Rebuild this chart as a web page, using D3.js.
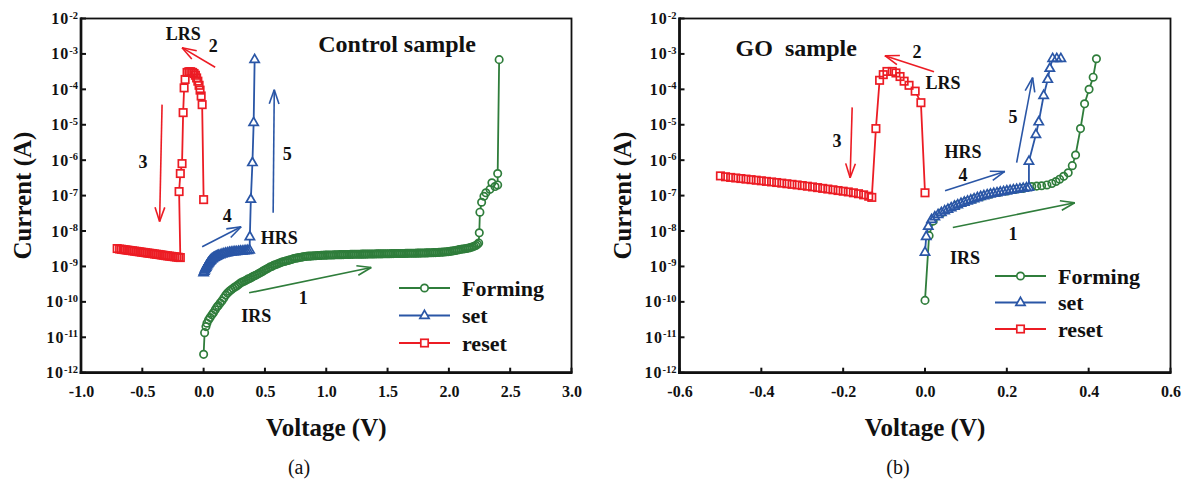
<!DOCTYPE html>
<html><head><meta charset="utf-8">
<script src="https://cdn.jsdelivr.net/npm/d3@7"></script>
<style>
body{margin:0;background:#fff}
svg{display:block}
text{font-family:"Liberation Serif","Times New Roman",serif;fill:#111}
</style></head><body>
<svg id="chart" width="1187" height="482"></svg>
<script>
// ---------------- DATA ----------------
const seriesNames = ["Forming", "set", "reset"];
const yTickExps = [-12, -11, -10, -9, -8, -7, -6, -5, -4, -3, -2];
const xTicksA = [-1.0, -0.5, 0.0, 0.5, 1.0, 1.5, 2.0, 2.5, 3.0];
const xTickLabelsA = ["-1.0", "-0.5", "0.0", "0.5", "1.0", "1.5", "2.0", "2.5", "3.0"];
const xTicksB = [-0.6, -0.4, -0.2, 0.0, 0.2, 0.4, 0.6];
const xTickLabelsB = ["-0.6", "-0.4", "-0.2", "0.0", "0.2", "0.4", "0.6"];

// Control sample: [voltage (V), current (A)]
const formingA = [[0,3.3e-12],[0.008,1.35e-11],[0.019,2.0e-11],[0.027,2.5e-11],[0.04,3.1e-11],[0.053,3.6e-11],[0.067,4.3e-11],[0.08,4.9e-11],[0.095,6.0e-11],[0.108,7.1e-11],[0.12,7.9e-11],[0.135,9.3e-11],[0.15,1.07e-10],[0.165,1.29e-10],[0.18,1.55e-10],
[0.195,1.78e-10],[0.21,2.0e-10],[0.225,2.19e-10],[0.24,2.4e-10],[0.255,2.63e-10],[0.27,2.82e-10],[0.285,3.1e-10],[0.3,3.39e-10],[0.315,3.63e-10],[0.33,3.8e-10],[0.345,4.07e-10],[0.36,4.37e-10],[0.375,4.57e-10],[0.39,4.9e-10],[0.405,5.25e-10],[0.42,5.5e-10],[0.435,5.89e-10],[0.45,6.3e-10],[0.465,6.76e-10],[0.48,7.24e-10],[0.495,7.76e-10],[0.51,8.3e-10],[0.525,8.9e-10],[0.54,9.55e-10],[0.555,1.0e-9],[0.57,1.07e-9],[0.585,1.12e-9],[0.6,1.17e-9],[0.615,1.23e-9],[0.63,1.29e-9],[0.645,1.35e-9],[0.66,1.38e-9],[0.675,1.45e-9],[0.69,1.48e-9],[0.705,1.55e-9],[0.72,1.58e-9],[0.735,1.66e-9],[0.75,1.7e-9],[0.765,1.74e-9],[0.78,1.78e-9],[0.795,1.82e-9],[0.81,1.86e-9],[0.825,1.9e-9],[0.84,1.92e-9],[0.855,1.95e-9],[0.87,1.96e-9],[0.885,1.98e-9],[0.9,2.0e-9],[0.915,2.01e-9],[0.93,2.03e-9],[0.945,2.04e-9],[0.96,2.05e-9],[0.975,2.07e-9],[0.99,2.08e-9],
[1.005,2.09e-9],[1.02,2.1e-9],[1.035,2.11e-9],[1.05,2.11e-9],[1.065,2.12e-9],[1.08,2.13e-9],[1.095,2.14e-9],[1.11,2.15e-9],[1.125,2.15e-9],[1.14,2.16e-9],[1.155,2.17e-9],[1.17,2.17e-9],[1.185,2.18e-9],[1.2,2.19e-9],[1.215,2.19e-9],[1.23,2.2e-9],[1.245,2.2e-9],[1.26,2.21e-9],[1.275,2.21e-9],[1.29,2.22e-9],[1.305,2.22e-9],[1.32,2.23e-9],[1.335,2.23e-9],[1.35,2.24e-9],[1.365,2.24e-9],[1.38,2.25e-9],[1.395,2.25e-9],[1.41,2.26e-9],[1.425,2.26e-9],[1.44,2.27e-9],[1.455,2.27e-9],[1.47,2.28e-9],[1.485,2.28e-9],[1.5,2.29e-9],[1.515,2.29e-9],[1.53,2.3e-9],[1.545,2.3e-9],[1.56,2.31e-9],[1.575,2.31e-9],[1.59,2.32e-9],[1.605,2.32e-9],[1.62,2.33e-9],[1.635,2.33e-9],[1.65,2.34e-9],[1.665,2.34e-9],[1.68,2.35e-9],[1.695,2.35e-9],[1.71,2.36e-9],[1.725,2.36e-9],[1.74,2.37e-9],[1.755,2.38e-9],[1.77,2.38e-9],[1.785,2.39e-9],[1.8,2.4e-9],[1.815,2.41e-9],[1.83,2.42e-9],[1.845,2.43e-9],[1.86,2.44e-9],[1.875,2.45e-9],[1.89,2.46e-9],[1.905,2.48e-9],[1.92,2.5e-9],[1.935,2.52e-9],[1.95,2.54e-9],[1.965,2.56e-9],[1.98,2.59e-9],[1.995,2.62e-9],
[2.01,2.66e-9],[2.025,2.71e-9],[2.04,2.76e-9],[2.055,2.82e-9],[2.07,2.9e-9],[2.085,2.98e-9],[2.1,3.05e-9],[2.115,3.1e-9],[2.13,3.15e-9],[2.145,3.2e-9],[2.16,3.3e-9],[2.175,3.4e-9],[2.19,3.55e-9],[2.205,3.7e-9],[2.22,3.9e-9],[2.233,4.2e-9],
[2.243,4.6e-9],[2.248,8.9e-9],[2.253,3.4e-8],[2.267,6.5e-8],[2.286,9.6e-8],[2.302,1.2e-7],[2.335,1.5e-7],[2.351,2.3e-7],[2.376,1.8e-7],[2.398,2.0e-7],[2.398,4.2e-7],[2.41,6.9e-4]];
const setA = [[0,6.6e-10],[0.005,7.3e-10],[0.01,8.0e-10],[0.015,8.8e-10],[0.02,9.5e-10],[0.025,1.03e-9],[0.03,1.1e-9],[0.035,1.18e-9],[0.04,1.25e-9],[0.045,1.32e-9],[0.05,1.39e-9],[0.055,1.46e-9],[0.06,1.52e-9],[0.067,1.6e-9],[0.074,1.67e-9],[0.081,1.74e-9],[0.088,1.8e-9],[0.096,1.87e-9],[0.104,1.93e-9],[0.112,1.99e-9],[0.12,2.04e-9],[0.135,2.13e-9],[0.15,2.22e-9],[0.165,2.3e-9],[0.18,2.37e-9],[0.195,2.43e-9],[0.21,2.48e-9],[0.225,2.53e-9],[0.24,2.57e-9],[0.255,2.6e-9],[0.27,2.63e-9],[0.285,2.66e-9],[0.3,2.69e-9],[0.315,2.72e-9],[0.33,2.75e-9],[0.345,2.78e-9],[0.36,2.82e-9],[0.375,2.9e-9],
[0.377,6.9e-9],[0.385,7.8e-8],[0.398,8.5e-7],[0.408,1.15e-5],[0.416,6.9e-4]];
const resetA = [[0,7.7e-8],[-0.012,3.7e-5],[-0.02,6.5e-5],[-0.029,9.5e-5],[-0.037,1.3e-4],[-0.047,1.7e-4],[-0.057,2.1e-4],[-0.067,2.5e-4],[-0.078,2.8e-4],[-0.09,3.0e-4],[-0.105,3.15e-4],[-0.12,3.15e-4],[-0.135,3.0e-4],[-0.151,1.9e-4],[-0.159,1.1e-4],[-0.167,2.2e-5],[-0.176,8e-7],[-0.19,4.2e-7],[-0.2,1.3e-7],
[-0.19,1.78e-9],[-0.205,1.81e-9],[-0.22,1.84e-9],[-0.235,1.87e-9],[-0.25,1.9e-9],[-0.265,1.93e-9],[-0.28,1.96e-9],[-0.295,1.99e-9],[-0.31,2.02e-9],[-0.325,2.06e-9],[-0.34,2.1e-9],[-0.355,2.14e-9],[-0.37,2.18e-9],[-0.385,2.21e-9],[-0.4,2.25e-9],[-0.415,2.29e-9],[-0.43,2.33e-9],[-0.445,2.37e-9],[-0.46,2.4e-9],[-0.475,2.45e-9],[-0.49,2.49e-9],[-0.505,2.53e-9],[-0.52,2.58e-9],[-0.535,2.62e-9],[-0.55,2.67e-9],[-0.565,2.71e-9],[-0.58,2.76e-9],[-0.595,2.81e-9],[-0.61,2.85e-9],[-0.625,2.9e-9],[-0.64,2.95e-9],[-0.655,3.0e-9],[-0.67,3.05e-9],[-0.685,3.1e-9],[-0.705,3.2e-9]];

// GO sample: [voltage (V), current (A)]
const formingB = [[0,1.1e-10],[0.01,7.4e-9],[0.02,1.9e-8],[0.04,3.2e-8],[0.06,4.3e-8],[0.08,5.5e-8],[0.1,6.8e-8],[0.12,8.1e-8],[0.14,9.6e-8],[0.16,1.1e-7],[0.18,1.22e-7],[0.2,1.35e-7],[0.22,1.48e-7],[0.24,1.6e-7],[0.25,1.7e-7],[0.261,1.8e-7],[0.273,1.85e-7],[0.285,1.9e-7],[0.298,2.0e-7],[0.31,2.2e-7],[0.32,2.5e-7],[0.329,2.9e-7],[0.339,3.5e-7],[0.35,4.4e-7],[0.36,7.0e-7],[0.368,1.4e-6],[0.38,7.8e-6],[0.39,3.9e-5],[0.401,1.0e-4],[0.411,2.2e-4],[0.419,7.3e-4]];
const setB = [[0,2.5e-9],[0.003,7e-9],[0.008,1.35e-8],[0.016,2.1e-8],[0.024,2.5e-8],[0.032,2.9e-8],[0.04,3.3e-8],[0.048,3.7e-8],[0.056,4.1e-8],[0.064,4.5e-8],[0.072,5.0e-8],[0.08,5.5e-8],[0.088,6.0e-8],[0.096,6.5e-8],[0.104,7.0e-8],[0.112,7.5e-8],[0.12,8.1e-8],[0.128,8.7e-8],[0.136,9.3e-8],[0.144,9.9e-8],[0.152,1.05e-7],[0.16,1.1e-7],[0.168,1.15e-7],[0.176,1.2e-7],[0.184,1.25e-7],[0.192,1.3e-7],[0.2,1.35e-7],[0.208,1.4e-7],[0.216,1.45e-7],[0.224,1.5e-7],[0.232,1.55e-7],[0.24,1.6e-7],[0.248,1.65e-7],[0.254,1.7e-7],[0.254,9.3e-7],[0.271,5.3e-6],[0.278,1.2e-5],[0.29,6.7e-5],[0.3,1.9e-4],[0.305,3.9e-4],[0.312,7.4e-4],[0.322,7.4e-4],[0.332,7.4e-4]];
const resetB = [[0,1.2e-7],[-0.01,4.2e-5],[-0.024,8.9e-5],[-0.039,1.3e-4],[-0.051,1.7e-4],[-0.061,2.3e-4],[-0.071,2.9e-4],[-0.08,3.2e-4],[-0.093,3.2e-4],[-0.102,2.6e-4],[-0.111,1.8e-4],[-0.12,7.8e-6],[-0.13,8.9e-8],[-0.1375,9.6e-8],[-0.15,1.05e-7],[-0.1625,1.13e-7],[-0.175,1.2e-7],[-0.1875,1.27e-7],[-0.2,1.33e-7],[-0.2125,1.39e-7],[-0.225,1.46e-7],[-0.2375,1.53e-7],[-0.25,1.6e-7],[-0.2625,1.68e-7],[-0.275,1.76e-7],[-0.2875,1.84e-7],[-0.3,1.92e-7],[-0.3125,2.0e-7],[-0.325,2.08e-7],[-0.3375,2.16e-7],[-0.35,2.25e-7],[-0.3625,2.34e-7],[-0.375,2.43e-7],[-0.3875,2.52e-7],[-0.4,2.62e-7],[-0.4125,2.72e-7],[-0.425,2.82e-7],[-0.4375,2.92e-7],[-0.45,3.03e-7],[-0.4625,3.14e-7],[-0.475,3.26e-7],[-0.4875,3.4e-7],[-0.5,3.6e-7]];

// Annotations in data coordinates
const arrowsA = [
  {c:"forming", from:[0.371,1.8e-10], to:[1.367,9.3e-10]},
  {c:"reset", from:[0.094,4.2e-4], to:[-0.176,1.5e-3]},
  {c:"reset", from:[-0.339,3.7e-5], to:[-0.359,1.86e-8]},
  {c:"set", from:[-0.012,3.6e-9], to:[0.306,1.32e-8]},
  {c:"set", from:[0.567,3.3e-8], to:[0.576,9.8e-5]}
];
const labelsA = [
  {t:"LRS", p:[-0.167,2.4e-3]}, {t:"2", p:[0.078,1.1e-3]}, {t:"3", p:[-0.494,6.2e-7]},
  {t:"4", p:[0.192,1.74e-8]}, {t:"HRS", p:[0.616,4.4e-9]}, {t:"5", p:[0.682,9.8e-7]},
  {t:"IRS", p:[0.429,2.75e-11]}, {t:"1", p:[0.812,8.9e-11]}
];
const arrowsB = [
  {c:"forming", from:[0.068,1.26e-8], to:[0.366,6.3e-8]},
  {c:"reset", from:[0.022,3.16e-4], to:[-0.098,8.9e-4]},
  {c:"reset", from:[-0.178,3.1e-5], to:[-0.183,3.2e-7]},
  {c:"set", from:[0.049,1.38e-7], to:[0.195,4.8e-7]},
  {c:"set", from:[0.224,8.5e-7], to:[0.263,2.14e-4]}
];
const labelsB = [
  {t:"2", p:[-0.0195,7.9e-4]}, {t:"LRS", p:[0.044,1.05e-4]}, {t:"3", p:[-0.215,2.3e-6]},
  {t:"HRS", p:[0.093,1.12e-6]}, {t:"4", p:[0.093,2.6e-7]}, {t:"5", p:[0.215,1.15e-5]},
  {t:"1", p:[0.215,5.4e-9]}, {t:"IRS", p:[0.098,1.2e-9]}
];

// ---------------- DRAWING ----------------
const colors = {forming:"#2f7d3b", set:"#2a56a6", reset:"#ec1c24"};
const svg = d3.select("#chart");

const panels = [
  {x0:81, x1:571.5, xDomain:[-1,3], xTicks:xTicksA, xLabels:xTickLabelsA,
   forming:formingA, set:setA, reset:resetA, arrows:arrowsA, labels:labelsA,
   title:"Control sample", titleAt:[0.935,1.1e-3], legend:[399, 288, 27.5], caption:"(a)", capX:299, yTitleX:31},
  {x0:679.5, x1:1170.5, xDomain:[-0.6,0.6], xTicks:xTicksB, xLabels:xTickLabelsB,
   forming:formingB, set:setB, reset:resetB, arrows:arrowsB, labels:labelsB,
   title:"GO  sample", titleAt:[-0.463,8.5e-4], legend:[995, 276, 26.5], caption:"(b)", capX:898, yTitleX:631}
];
const yTop = 18.5, yBot = 372.7;
const MSW = 1.7;

// marker shape; fill = "#fff" & stroke none for the fill pass, fill none & stroke for the outline pass
function marker(g, kind, x, y, fill, stroke) {
  let el;
  if (kind === "forming") {
    el = g.append("circle").attr("cx", x).attr("cy", y).attr("r", 3.7);
  } else if (kind === "set") {
    el = g.append("path").attr("d", `M${x},${y-5.2}L${x+4.6},${y+2.8}L${x-4.6},${y+2.8}Z`);
  } else {
    el = g.append("rect").attr("x", x-3.7).attr("y", y-3.7).attr("width", 7.4).attr("height", 7.4);
  }
  el.attr("fill", fill).attr("stroke", stroke).attr("stroke-width", MSW);
}

function arrow(g, x1, y1, x2, y2, color) {
  g.append("line").attr("x1", x1).attr("y1", y1).attr("x2", x2).attr("y2", y2)
    .attr("stroke", color).attr("stroke-width", 1.6);
  const a = Math.atan2(y2 - y1, x2 - x1), L = 15, w = 0.33;
  [a + Math.PI - w, a + Math.PI + w].forEach(b => {
    g.append("line").attr("x1", x2).attr("y1", y2)
      .attr("x2", x2 + L * Math.cos(b)).attr("y2", y2 + L * Math.sin(b))
      .attr("stroke", color).attr("stroke-width", 1.6);
  });
}

panels.forEach(P => {
  const x = d3.scaleLinear().domain(P.xDomain).range([P.x0, P.x1]);
  const y = d3.scaleLog().domain([1e-12, 1e-2]).range([yBot, yTop]);
  const g = svg.append("g");

  // frame
  g.append("rect").attr("x", P.x0).attr("y", yTop).attr("width", P.x1 - P.x0).attr("height", yBot - yTop)
    .attr("fill", "none").attr("stroke", "#111").attr("stroke-width", 1.8);

  // y axis
  const ya = d3.axisLeft(y).tickValues(yTickExps.map(e => Math.pow(10, e))).tickSize(0).tickFormat("");
  g.append("g").attr("transform", `translate(${P.x0},0)`).call(ya).call(s => s.select(".domain").remove());
  yTickExps.forEach(e => {
    const yy = y(Math.pow(10, e));
    g.append("line").attr("x1", P.x0).attr("x2", P.x0 + 5).attr("y1", yy).attr("y2", yy)
      .attr("stroke", "#111").attr("stroke-width", 2);
    const t = g.append("text").attr("x", P.x0 - 3).attr("y", yy + 5.5).attr("text-anchor", "end")
      .attr("font-weight", "bold").attr("font-size", 16);
    t.append("tspan").attr("letter-spacing", 1).text("10");
    t.append("tspan").attr("dy", -5.5).attr("font-size", 10.5).text(String(e));
  });

  // x axis
  const xa = d3.axisBottom(x).tickValues(P.xTicks).tickSize(0).tickFormat((d, i) => P.xLabels[i]);
  const xg = g.append("g").attr("transform", `translate(0,${yBot})`).call(xa);
  xg.select(".domain").remove();
  xg.selectAll("text").attr("dy", null).attr("y", 24.5).attr("font-size", 16).attr("font-weight", "bold")
    .attr("font-family", '"Liberation Serif","Times New Roman",serif').attr("fill", "#111");
  P.xTicks.forEach(v => {
    g.append("line").attr("x1", x(v)).attr("x2", x(v)).attr("y1", yBot).attr("y2", yBot - 5)
      .attr("stroke", "#111").attr("stroke-width", 2);
  });

  // thick left & bottom axis lines
  g.append("line").attr("x1", P.x0).attr("x2", P.x0).attr("y1", yTop - 0.9).attr("y2", yBot + 1.3)
    .attr("stroke", "#111").attr("stroke-width", 2.7);
  g.append("line").attr("x1", P.x0 - 1.3).attr("x2", P.x1 + 0.9).attr("y1", yBot).attr("y2", yBot)
    .attr("stroke", "#111").attr("stroke-width", 2.7);

  // axis titles
  g.append("text").attr("x", (P.x0 + P.x1) / 2).attr("y", 436).attr("text-anchor", "middle")
    .attr("font-weight", "bold").attr("font-size", 25).text("Voltage (V)");
  g.append("text").attr("transform", `translate(${P.yTitleX},${(yTop + yBot) / 2}) rotate(-90)`)
    .attr("text-anchor", "middle").attr("font-weight", "bold").attr("font-size", 25).text("Current (A)");
  g.append("text").attr("x", P.capX).attr("y", 474).attr("text-anchor", "middle")
    .attr("font-size", 20).text(P.caption);

  // series: line, then white marker fills, then marker outlines on top
  const line = d3.line().x(d => x(d[0])).y(d => y(d[1]));
  ["forming", "set", "reset"].forEach(k => {
    const data = P[k];
    g.append("path").attr("d", line(data)).attr("fill", "none")
      .attr("stroke", colors[k]).attr("stroke-width", 1.8);
    const fg = g.append("g");
    data.forEach(d => marker(fg, k, x(d[0]), y(d[1]), "#fff", "none"));
    const sg = g.append("g");
    data.forEach(d => marker(sg, k, x(d[0]), y(d[1]), "none", colors[k]));
  });

  // annotations
  P.arrows.forEach(a => arrow(g, x(a.from[0]), y(a.from[1]), x(a.to[0]), y(a.to[1]), colors[a.c]));
  P.labels.forEach(l => {
    g.append("text").attr("x", x(l.p[0])).attr("y", y(l.p[1])).attr("text-anchor", "middle")
      .attr("font-weight", "bold").attr("font-size", 18).text(l.t);
  });
  g.append("text").attr("x", x(P.titleAt[0])).attr("y", y(P.titleAt[1]))
    .attr("font-weight", "bold").attr("font-size", 24).style("white-space", "pre").text(P.title);

  // legend
  const [lx, ly, dy] = P.legend;
  ["forming", "set", "reset"].forEach((k, i) => {
    const yy = ly + i * dy;
    g.append("line").attr("x1", lx).attr("x2", lx + 51).attr("y1", yy).attr("y2", yy)
      .attr("stroke", colors[k]).attr("stroke-width", 1.8);
    marker(g, k, lx + 25.5, yy, "#fff", colors[k]);
    g.append("text").attr("x", lx + 63).attr("y", yy + 7.5).attr("font-weight", "bold")
      .attr("font-size", 22).text(seriesNames[i]);
  });
});
</script>
</body></html>
